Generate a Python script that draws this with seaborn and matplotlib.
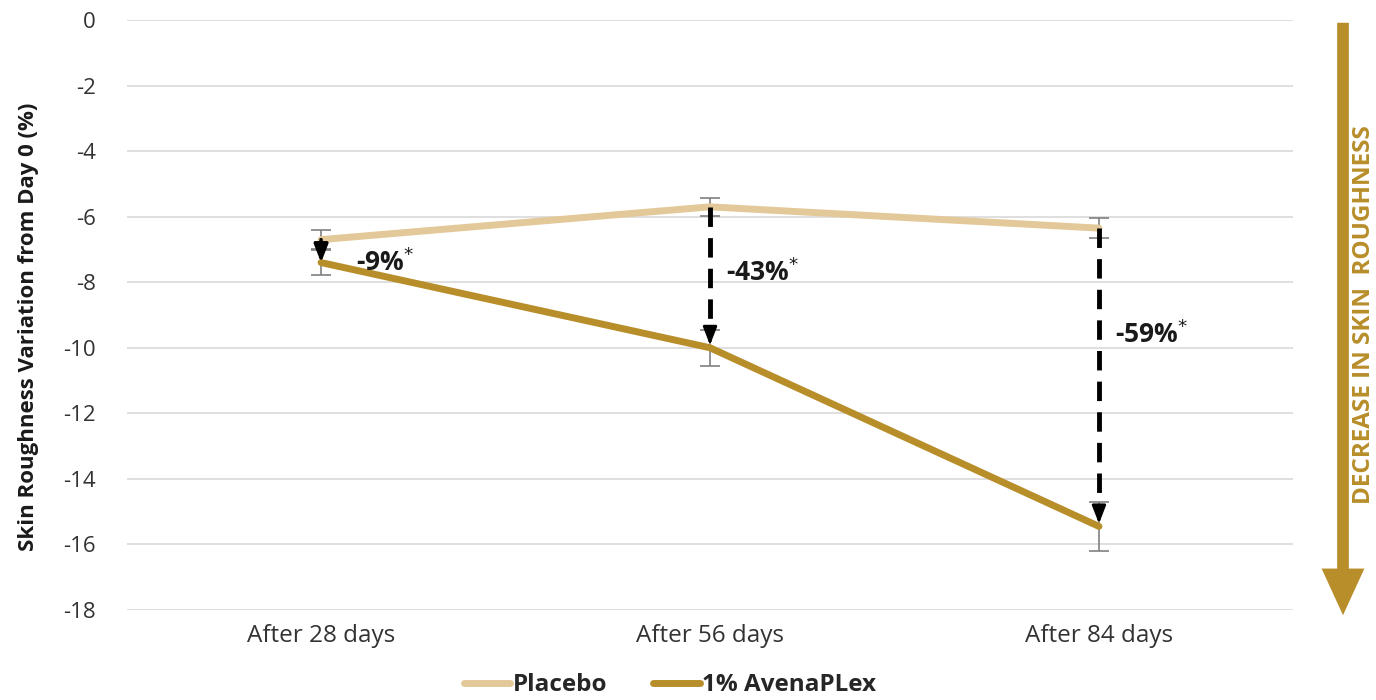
import pandas as pd
import matplotlib.pyplot as plt
import seaborn as sns
from matplotlib.lines import Line2D
from matplotlib.patches import FancyArrowPatch

# data
dias = ["After 28 days", "After 56 days", "After 84 days"]
placebo = [-6.7, -5.7, -6.35]
placebo_err = [0.3, 0.28, 0.3]
avena = [-7.4, -10.0, -15.45]
avena_err = [0.38, 0.55, 0.75]
reducao = ["-9%", "-43%", "-59%"]
rotulo_y = [-7.4, -7.7, -9.6]
rotulo_dx = [0.09, 0.04, 0.04]

cor_placebo = "#E3C999"
cor_avena = "#B88E2A"

sns.set_theme(style="whitegrid")
plt.rcParams["font.family"] = ["Open Sans", "DejaVu Sans"]
plt.rcParams["axes.unicode_minus"] = False

dados = pd.DataFrame({
    "dia": dias * 2,
    "valor": placebo + avena,
    "grupo": ["Placebo"] * 3 + ["1% AvenaPLex"] * 3,
})

fig = plt.figure(figsize=(13.76, 7.0), dpi=100)
ax = fig.add_axes([0.092, 0.1286, 0.848, 0.8428])

sns.lineplot(data=dados, x="dia", y="valor", hue="grupo",
             palette={"Placebo": cor_placebo, "1% AvenaPLex": cor_avena},
             linewidth=5, ax=ax, legend=False, sort=False)

# barras de erro
pos = range(len(dias))
ax.errorbar(pos, placebo, yerr=placebo_err, fmt="none", ecolor="#808080",
            elinewidth=1.2, capsize=7, capthick=1.2, zorder=1)
ax.errorbar(pos, avena, yerr=avena_err, fmt="none", ecolor="#808080",
            elinewidth=1.2, capsize=7, capthick=1.2, zorder=1)

# setas pretas placebo -> avena
for i in pos:
    topo, fundo = placebo[i], avena[i]
    if i > 0:
        ax.plot([i, i], [topo, fundo + 0.35], color="black", lw=3.5,
                dashes=(4, 2.3), zorder=4)
        ax.annotate("", xy=(i, fundo), xytext=(i, fundo + 0.4),
                    arrowprops=dict(arrowstyle="-|>,head_width=0.35,head_length=0.9",
                                    color="black", lw=2), zorder=5)
    else:
        ax.annotate("", xy=(i, fundo), xytext=(i, topo),
                    arrowprops=dict(arrowstyle="-|>,head_width=0.35,head_length=0.9",
                                    color="black", lw=2.5, shrinkA=0, shrinkB=0),
                    zorder=5)
    ax.text(i + rotulo_dx[i], rotulo_y[i], reducao[i] + r"$^{*}$", fontsize=19,
            fontweight="bold", color="#1a1a1a", va="center", ha="left")

ax.set_xlim(-0.5, 2.5)
ax.set_ylim(-18, 0)
ax.set_yticks(range(-18, 1, 2))
ax.tick_params(axis="y", labelsize=16, colors="#333333", length=0, pad=22)
ax.tick_params(axis="x", labelsize=17.5, colors="#333333", length=0, pad=10)
ax.set_xlabel("")
ax.set_ylabel("Skin Roughness Variation from Day 0 (%)", fontsize=16,
              fontweight="bold", color="#1a1a1a")
ax.yaxis.set_label_coords(-0.075, 0.48)
ax.grid(axis="x", visible=False)
ax.grid(axis="y", color="#d9d9d9", lw=1.2)
for s in ax.spines.values():
    s.set_visible(False)

# legenda
handles = [Line2D([], [], color=cor_placebo, lw=5),
           Line2D([], [], color=cor_avena, lw=5)]
fig.legend(handles, ["Placebo", "1% AvenaPLex"], loc="center",
           bbox_to_anchor=(0.487, 0.021), ncol=2, frameon=False,
           handlelength=1.9, handletextpad=0.1, columnspacing=1.9,
           prop={"size": 17.5, "weight": "bold"})

# seta dourada lateral
fig.add_artist(FancyArrowPatch(
    (1343 / 1376, 1 - 20 / 700), (1343 / 1376, 1 - 618 / 700),
    transform=fig.transFigure,
    arrowstyle="simple,head_width=2.2,head_length=2.4,tail_width=0.6",
    mutation_scale=14, color=cor_avena, lw=0))
fig.text(1364 / 1376, 1 - 315 / 700, "DECREASE IN SKIN  ROUGHNESS", rotation=90,
         color=cor_avena, fontsize=17.5, fontweight="bold", ha="center", va="center")

fig.savefig("out.png", dpi=100)
